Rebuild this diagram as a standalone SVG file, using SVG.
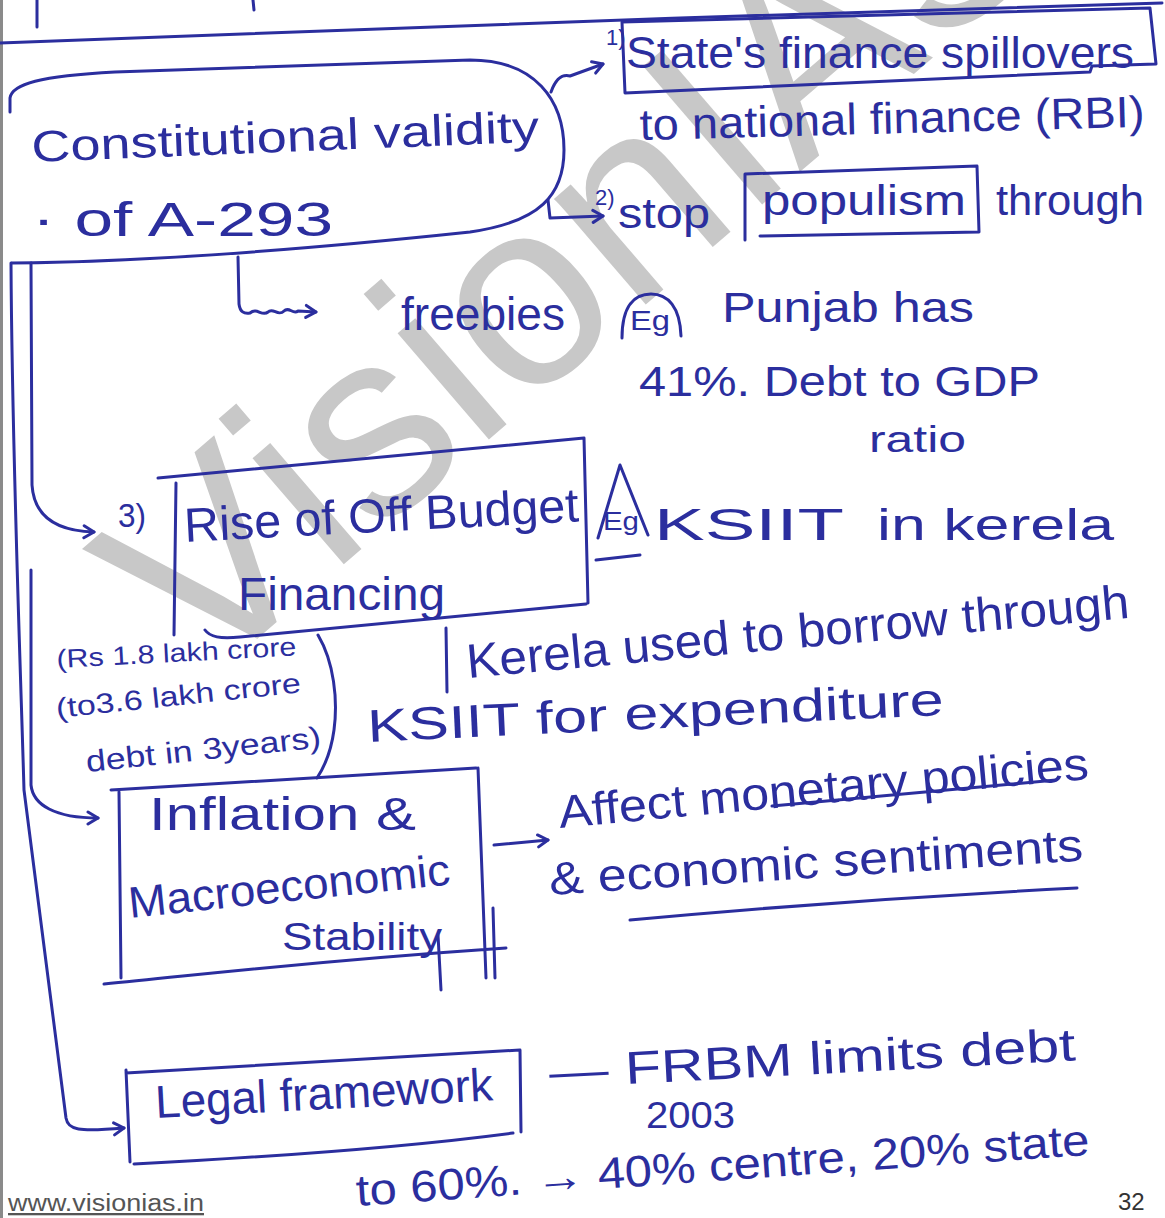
<svg xmlns="http://www.w3.org/2000/svg" width="1165" height="1218" viewBox="0 0 1165 1218">
  <defs>
    <style>
      .ink { fill: #2b2e9e; font-family: "Liberation Sans", Arial, sans-serif; }
      .pen { fill: none; stroke: #2b2e9e; stroke-width: 3; stroke-linecap: round; stroke-linejoin: round; }
      .mark { fill: #c8c8c8; font-family: "Liberation Sans", Arial, sans-serif; }
    </style>
    <marker id="arrow" markerUnits="userSpaceOnUse" markerWidth="16" markerHeight="16" refX="13" refY="8" orient="auto">
      <path d="M3,2 L13,8 L3,14" fill="none" stroke="#2b2e9e" stroke-width="3" stroke-linecap="round" stroke-linejoin="round"/>
    </marker>
  </defs>

  <!-- paper -->
  <rect x="0" y="0" width="1165" height="1218" fill="#ffffff"/>
  <line x1="1.5" y1="0" x2="1.5" y2="1218" stroke="#8a8a8a" stroke-width="3"/>

  <!-- watermark -->
  <text class="mark" x="200" y="688" font-size="265" transform="rotate(-40.7 200 688)">VisionIAS</text>

  <!-- end of the box above -->
  <g id="page-top">
    <path class="pen" d="M0,43 C300,32 800,12 1162,3"/>
    <path class="pen" d="M37,0 L37,27 M253,0 L254,10"/>
  </g>

  <g id="connectors">
    <path class="pen" d="M551,92 C556,78 562,74 570,76 L603,64" marker-end="url(#arrow)"/>
    <path class="pen" d="M548,200 L550,218 L603,216" marker-end="url(#arrow)"/>
    <path class="pen" d="M238,257 L239,304 C240,312 244,314 250,313 c7,-6 12,4 18,-1 c5,-5 10,5 16,-1 c5,-5 9,4 14,0 L316,312" marker-end="url(#arrow)"/>
    <path class="pen" d="M31,263 L32,485 C34,515 55,531 94,532" marker-end="url(#arrow)"/>
    <path class="pen" d="M31,570 L31,785 C33,805 55,818 98,818" marker-end="url(#arrow)"/>
    <path class="pen" d="M11,263 C12,450 20,650 24,790 L66,1118 C68,1130 78,1132 124,1128" marker-end="url(#arrow)"/>
    <path class="pen" d="M494,845 L548,840" marker-end="url(#arrow)"/>
  </g>

  <g id="validity">
    <path class="pen" d="M12,263 C150,262 300,250 470,232 C540,222 564,195 564,150 C564,100 535,60 470,60 L115,72 C40,76 12,84 10,98 L10,112"/>
    <text class="ink" x="32" y="162" font-size="44" textLength="508" lengthAdjust="spacingAndGlyphs" transform="rotate(-2.3 32 162)">Constitutional validity</text>
    <text class="ink" x="32" y="236" font-size="48" textLength="301" lengthAdjust="spacingAndGlyphs">· of A-293</text>
  </g>

  <g id="spillover">
    <text class="ink" x="606" y="45" font-size="22">1)</text>
    <path class="pen" d="M622,22 L1150,8 L1156,64 L1092,66 L1090,72 L625,93 Z"/>
    <text class="ink" x="626" y="68" font-size="44" textLength="508" lengthAdjust="spacingAndGlyphs">State's finance spillovers</text>
    <text class="ink" x="640" y="140" font-size="44" textLength="505" lengthAdjust="spacingAndGlyphs" transform="rotate(-1.5 640 140)">to national finance (RBI)</text>
  </g>

  <g id="populism">
    <text class="ink" x="595" y="205" font-size="22">2)</text>
    <text class="ink" x="618" y="228" font-size="42" textLength="92" lengthAdjust="spacingAndGlyphs">stop</text>
    <path class="pen" d="M745,240 L745,174 L977,166 L979,232 L760,236"/>
    <text class="ink" x="762" y="215" font-size="42" textLength="204" lengthAdjust="spacingAndGlyphs">populism</text>
    <text class="ink" x="996" y="215" font-size="42" textLength="148" lengthAdjust="spacingAndGlyphs">through</text>
  </g>

  <g id="freebies">
    <text class="ink" x="401" y="330" font-size="46" textLength="164" lengthAdjust="spacingAndGlyphs">freebies</text>
    <path class="pen" d="M622,338 C622,305 635,294 651,294 C668,294 680,307 681,336"/>
    <text class="ink" x="630" y="330" font-size="28" textLength="40" lengthAdjust="spacingAndGlyphs">Eg</text>
    <text class="ink" x="722" y="322" font-size="42" textLength="252" lengthAdjust="spacingAndGlyphs">Punjab has</text>
    <text class="ink" x="639" y="396" font-size="42" textLength="401" lengthAdjust="spacingAndGlyphs">41%. Debt to GDP</text>
    <text class="ink" x="869" y="452" font-size="36" textLength="97" lengthAdjust="spacingAndGlyphs">ratio</text>
  </g>

  <g id="off-budget">
    <text class="ink" x="118" y="527" font-size="34" textLength="28" lengthAdjust="spacingAndGlyphs">3)</text>
    <path class="pen" d="M176,483 L174,635"/>
    <path class="pen" d="M158,478 L584,438 L588,603 M205,630 C210,637 220,639 240,637 L586,604"/>
    <text class="ink" x="185" y="542" font-size="48" textLength="395" lengthAdjust="spacingAndGlyphs" transform="rotate(-3 185 542)">Rise of Off Budget</text>
    <text class="ink" x="238" y="610" font-size="46" textLength="207" lengthAdjust="spacingAndGlyphs">Financing</text>
    <path class="pen" d="M446,628 L447,692"/>
  </g>

  <g id="kerala-example">
    <path class="pen" d="M598,538 L620,465 L648,535 M596,560 L640,555"/>
    <text class="ink" x="603" y="530" font-size="26" textLength="36" lengthAdjust="spacingAndGlyphs">Eg</text>
    <text class="ink" x="654" y="540" font-size="44" textLength="190" lengthAdjust="spacingAndGlyphs">KSIIT</text>
    <text class="ink" x="877" y="540" font-size="44" textLength="237" lengthAdjust="spacingAndGlyphs">in kerela</text>
    <text class="ink" x="468" y="678" font-size="48" textLength="665" lengthAdjust="spacingAndGlyphs" transform="rotate(-5.2 468 678)">Kerela used to borrow through</text>
    <text class="ink" x="368" y="742" font-size="46" textLength="577" lengthAdjust="spacingAndGlyphs" transform="rotate(-2.7 368 742)">KSIIT for expenditure</text>
  </g>

  <g id="debt-note">
    <text class="ink" x="57" y="668" font-size="26" textLength="240" lengthAdjust="spacingAndGlyphs" transform="rotate(-3 57 668)">(Rs 1.8 lakh crore</text>
    <text class="ink" x="57" y="718" font-size="28" textLength="246" lengthAdjust="spacingAndGlyphs" transform="rotate(-6 57 718)">(to3.6 lakh crore</text>
    <text class="ink" x="87" y="772" font-size="30" textLength="236" lengthAdjust="spacingAndGlyphs" transform="rotate(-6 87 772)">debt in 3years)</text>
    <path class="pen" d="M318,635 C334,662 338,700 334,730 C331,752 325,766 317,778"/>
  </g>

  <g id="inflation">
    <path class="pen" d="M111,790 L476,768 M119,792 L121,978 M478,768 L486,978 M104,984 C200,975 300,962 506,948 M438,935 L441,990 M493,908 L495,978"/>
    <text class="ink" x="149" y="830" font-size="46" textLength="267" lengthAdjust="spacingAndGlyphs">Inflation &amp;</text>
    <text class="ink" x="130" y="918" font-size="44" textLength="323" lengthAdjust="spacingAndGlyphs" transform="rotate(-6 130 918)">Macroeconomic</text>
    <text class="ink" x="282" y="950" font-size="38" textLength="160" lengthAdjust="spacingAndGlyphs">Stability</text>
  </g>

  <g id="monetary-effect">
    <text class="ink" x="560" y="828" font-size="46" textLength="532" lengthAdjust="spacingAndGlyphs" transform="rotate(-5.3 560 828)">Affect monetary policies</text>
    <path class="pen" d="M772,806 C850,798 950,789 1056,780"/>
    <text class="ink" x="550" y="895" font-size="46" textLength="535" lengthAdjust="spacingAndGlyphs" transform="rotate(-3.7 550 895)">&amp; economic sentiments</text>
    <path class="pen" d="M630,920 C760,908 900,897 1077,888"/>
  </g>

  <g id="legal">
    <path class="pen" d="M126,1073 L520,1050 L521,1132 M126,1070 L130,1162 M134,1164 C250,1158 400,1148 513,1133"/>
    <text class="ink" x="156" y="1118" font-size="46" textLength="338" lengthAdjust="spacingAndGlyphs" transform="rotate(-3 156 1118)">Legal framework</text>
    <text class="ink" x="550" y="1088" font-size="46" textLength="527" lengthAdjust="spacingAndGlyphs" transform="rotate(-3 550 1088)">— FRBM limits debt</text>
    <text class="ink" x="646" y="1128" font-size="36" textLength="89" lengthAdjust="spacingAndGlyphs">2003</text>
    <text class="ink" x="357" y="1206" font-size="44" textLength="735" lengthAdjust="spacingAndGlyphs" transform="rotate(-4 357 1206)">to 60%. → 40% centre, 20% state</text>
  </g>

  <g id="footer">
    <text x="8" y="1211" font-size="23" fill="#555555" font-family="'Liberation Sans', Arial, sans-serif" text-decoration="underline" textLength="196" lengthAdjust="spacingAndGlyphs">www.visionias.in</text>
    <text x="1118" y="1210" font-size="24" fill="#333333" font-family="'Liberation Sans', Arial, sans-serif">32</text>
  </g>
</svg>
